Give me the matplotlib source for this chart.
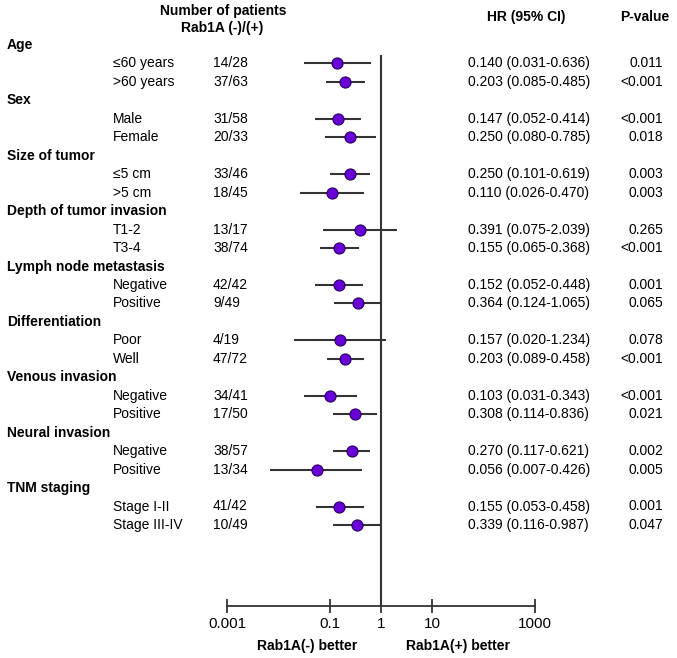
import numpy as np
import matplotlib.pyplot as plt
from matplotlib.transforms import blended_transform_factory

plt.rcParams['font.family'] = ['Liberation Sans', 'DejaVu Sans']

# Dados
grupos = ['Age', 'Sex', 'Size of tumor', 'Depth of tumor invasion',
          'Lymph node metastasis', 'Differentiation', 'Venous invasion',
          'Neural invasion', 'TNM staging']
subgrupos = [['≤60 years', '>60 years'], ['Male', 'Female'], ['≤5 cm', '>5 cm'],
             ['T1-2', 'T3-4'], ['Negative', 'Positive'], ['Poor', 'Well'],
             ['Negative', 'Positive'], ['Negative', 'Positive'],
             ['Stage I-II', 'Stage III-IV']]
pacientes = ['14/28', '37/63', '31/58', '20/33', '33/46', '18/45', '13/17', '38/74',
             '42/42', '9/49', '4/19', '47/72', '34/41', '17/50', '38/57', '13/34',
             '41/42', '10/49']
hr = [0.140, 0.203, 0.147, 0.250, 0.250, 0.110, 0.391, 0.155, 0.152, 0.364,
      0.157, 0.203, 0.103, 0.308, 0.270, 0.056, 0.155, 0.339]
ci_inf = [0.031, 0.085, 0.052, 0.080, 0.101, 0.026, 0.075, 0.065, 0.052, 0.124,
          0.020, 0.089, 0.031, 0.114, 0.117, 0.007, 0.053, 0.116]
ci_sup = [0.636, 0.485, 0.414, 0.785, 0.619, 0.470, 2.039, 0.368, 0.448, 1.065,
          1.234, 0.458, 0.343, 0.836, 0.621, 0.426, 0.458, 0.987]
p_valor = ['0.011', '<0.001', '<0.001', '0.018', '0.003', '0.003', '0.265', '<0.001',
           '0.001', '0.065', '0.078', '<0.001', '<0.001', '0.021', '0.002', '0.005',
           '0.001', '0.047']
ticks = [0.001, 0.1, 1, 10, 1000]
tick_labels = ['0.001', '0.1', '1', '10', '1000']

W, H = 677, 658
fig = plt.figure(figsize=(W / 100, H / 100), dpi=100)

# eixo do forest plot (pixels -> fração da figura)
x0, x1 = 227, 535
y_top, y_bot = 36, 606
ax = fig.add_axes([x0 / W, 1 - y_bot / H, (x1 - x0) / W, (y_bot - y_top) / H])
passo = 18.46
ax.set_xscale('log')
ax.set_xlim(0.001, 1000)
ax.set_ylim((y_bot - 45) / passo, (y_top - 45) / passo)

for s in ['top', 'right', 'left']:
    ax.spines[s].set_visible(False)
ax.spines['bottom'].set_linewidth(1.3)
ax.spines['bottom'].set_color('#333333')
ax.set_yticks([])
ax.set_xticks(ticks)
ax.set_xticklabels(tick_labels)
ax.minorticks_off()
ax.tick_params(axis='x', direction='inout', length=10, width=1.3, color='#333333',
               labelsize=11, pad=3)
ax.patch.set_alpha(0)

# posições das linhas
linhas_sub = []
linhas_grp = []
i = 0
for g in grupos:
    linhas_grp.append(i)
    linhas_sub.extend([i + 1, i + 2])
    i += 3
linhas_sub = np.array(linhas_sub)

ax.vlines(1, 0.55, (y_bot - 45) / passo, color='#333333', lw=1.5, zorder=1)
ax.hlines(linhas_sub, ci_inf, ci_sup, color='#333333', lw=1.5, zorder=2)
ax.plot(hr, linhas_sub, 'o', ms=8, mfc='#6a00d8', mec='#2a0060', mew=0.8, zorder=3)

tr = blended_transform_factory(fig.transFigure, ax.transData)
fs = 10
for g, y in zip(grupos, linhas_grp):
    ax.text(7 / W, y, g, transform=tr, fontsize=fs, fontweight='bold', va='center')
for k, y in enumerate(linhas_sub):
    ax.text(113 / W, y, subgrupos[k // 2][k % 2], transform=tr, fontsize=fs, va='center')
    ax.text(213 / W, y, pacientes[k], transform=tr, fontsize=fs, va='center')
    ax.text(468 / W, y, f'{hr[k]:.3f} ({ci_inf[k]:.3f}-{ci_sup[k]:.3f})',
            transform=tr, fontsize=fs, va='center')
    ax.text(663 / W, y, p_valor[k], transform=tr, fontsize=fs, va='center', ha='right')

# cabeçalhos
fig.text(223 / W, 1 - 11 / H, 'Number of patients', fontsize=fs, fontweight='bold',
         ha='center', va='center')
fig.text(222 / W, 1 - 28 / H, 'Rab1A (-)/(+)', fontsize=fs, fontweight='bold',
         ha='center', va='center')
fig.text(526 / W, 1 - 17 / H, 'HR (95% CI)', fontsize=fs, fontweight='bold',
         ha='center', va='center')
fig.text(645 / W, 1 - 17 / H, 'P-value', fontsize=fs, fontweight='bold',
         ha='center', va='center')
fig.text(307 / W, 1 - 646 / H, 'Rab1A(-) better', fontsize=fs, fontweight='bold',
         ha='center', va='center')
fig.text(458 / W, 1 - 646 / H, 'Rab1A(+) better', fontsize=fs, fontweight='bold',
         ha='center', va='center')

fig.savefig('out.png', dpi=100)
